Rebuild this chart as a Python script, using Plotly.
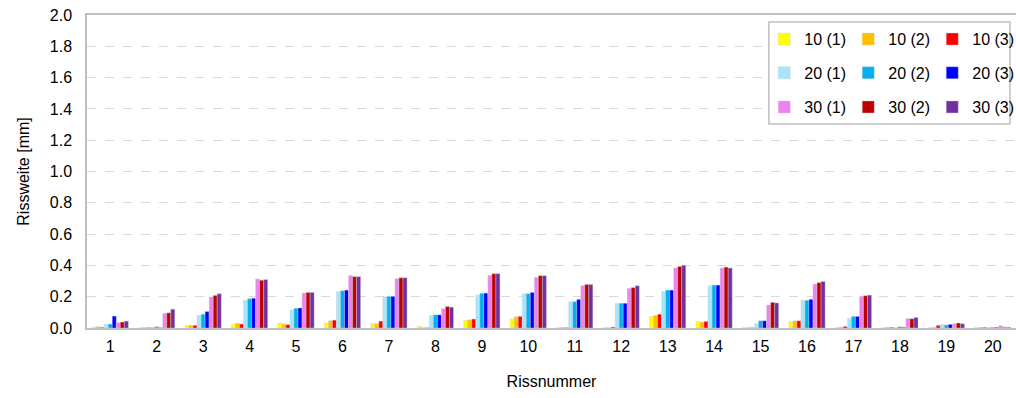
import plotly.graph_objects as go

categories = list(range(1, 21))
tick_labels = [str(c) for c in categories]

series_names = ["10 (1)", "10 (2)", "10 (3)", "20 (1)", "20 (2)", "20 (3)", "30 (1)", "30 (2)", "30 (3)"]

s10_1 = [0.006, 0.002, 0.017, 0.025, 0.032, 0.032, 0.030, 0.010, 0.048, 0.059, 0.002, 0.002, 0.074, 0.040, 0.002, 0.040, 0.003, 0.002, 0.002, 0.003]
s10_2 = [0.008, 0.002, 0.017, 0.030, 0.025, 0.046, 0.027, 0.002, 0.052, 0.072, 0.003, 0.001, 0.080, 0.038, 0.002, 0.046, 0.006, 0.004, 0.004, 0.004]
s10_3 = [0.004, 0.002, 0.017, 0.025, 0.021, 0.050, 0.044, 0.002, 0.057, 0.074, 0.002, 0.006, 0.088, 0.042, 0.002, 0.046, 0.010, 0.004, 0.017, 0.004]
s20_1 = [0.023, 0.006, 0.080, 0.177, 0.116, 0.233, 0.200, 0.080, 0.210, 0.219, 0.168, 0.156, 0.233, 0.270, 0.027, 0.177, 0.061, 0.002, 0.023, 0.004]
s20_2 = [0.025, 0.008, 0.088, 0.187, 0.126, 0.238, 0.202, 0.084, 0.221, 0.219, 0.168, 0.158, 0.242, 0.274, 0.046, 0.177, 0.074, 0.008, 0.019, 0.004]
s20_3 = [0.076, 0.002, 0.105, 0.190, 0.128, 0.242, 0.202, 0.084, 0.223, 0.227, 0.183, 0.158, 0.242, 0.274, 0.046, 0.183, 0.074, 0.004, 0.023, 0.004]
s30_1 = [0.034, 0.093, 0.198, 0.313, 0.223, 0.336, 0.315, 0.124, 0.336, 0.323, 0.270, 0.253, 0.383, 0.383, 0.147, 0.280, 0.202, 0.061, 0.027, 0.015]
s30_2 = [0.038, 0.097, 0.208, 0.305, 0.227, 0.328, 0.321, 0.137, 0.347, 0.334, 0.278, 0.258, 0.393, 0.389, 0.164, 0.290, 0.206, 0.059, 0.032, 0.004]
s30_3 = [0.044, 0.120, 0.219, 0.309, 0.227, 0.328, 0.321, 0.133, 0.347, 0.334, 0.278, 0.270, 0.400, 0.383, 0.160, 0.297, 0.210, 0.067, 0.027, 0.004]

series_values = [s10_1, s10_2, s10_3, s20_1, s20_2, s20_3, s30_1, s30_2, s30_3]
colors = ["#FFFF00", "#FFC000", "#FF0000", "#A6E6FA", "#00B0F0", "#0000FF", "#EE82EE", "#C00000", "#7030A0"]
legend_ids = ["legend", "legend", "legend", "legend2", "legend2", "legend2", "legend3", "legend3", "legend3"]

FONT = "Liberation Sans, Arial, sans-serif"

fig = go.Figure()
for name, vals, col, lg in zip(series_names, series_values, colors, legend_ids):
    fig.add_trace(go.Bar(
        x=categories, y=vals, name=name, legend=lg,
        marker=dict(color=col, line=dict(color="#d0d0d0", width=0.4)),
    ))

leg_common = dict(orientation="h", bgcolor="rgba(0,0,0,0)", borderwidth=0,
                  font=dict(family=FONT, size=16, color="#000000"),
                  entrywidth=39, entrywidthmode="pixels", itemwidth=30,
                  xanchor="left", yanchor="middle", x=0.729, tracegroupgap=0)

fig.update_layout(
    width=1016, height=398,
    margin=dict(l=87, r=0, t=15, b=70, autoexpand=False),
    paper_bgcolor="white", plot_bgcolor="white",
    barmode="group", bargap=0.22, bargroupgap=0,
    font=dict(family=FONT, size=15, color="#000000"),
    legend=dict(leg_common, y=0.923),
    legend2=dict(leg_common, y=0.815),
    legend3=dict(leg_common, y=0.706),
    xaxis=dict(
        range=[0.5, 20.5], tickmode="array", tickvals=categories, ticktext=tick_labels,
        showline=True, linecolor="#bfbfbf", linewidth=2, mirror=True,
        ticks="", showgrid=False, zeroline=False, ticklabelstandoff=3,
        tickfont=dict(family=FONT, size=16, color="#000000"),
        title=dict(text="Rissnummer", font=dict(family=FONT, size=16, color="#000000"), standoff=22),
    ),
    yaxis=dict(
        range=[0, 2.0], dtick=0.2, tickformat=".1f",
        showline=True, linecolor="#bfbfbf", linewidth=1.5, mirror=True,
        showgrid=True, gridcolor="#d9d9d9", griddash="dash", gridwidth=1,
        zeroline=False, ticks="", ticklabelstandoff=10,
        tickfont=dict(family=FONT, size=16, color="#000000"),
        title=dict(text="Rissweite [mm]", font=dict(family=FONT, size=16, color="#000000"), standoff=16),
    ),
    shapes=[dict(type="rect", xref="paper", yref="paper",
                 x0=0.734, x1=0.9935, y0=0.652, y1=0.978,
                 line=dict(color="#bfbfbf", width=1.5), fillcolor="white", layer="above")],
)

fig.write_html("out.html", config={"displayModeBar": False},
               post_script="document.body.style.margin='0';")
